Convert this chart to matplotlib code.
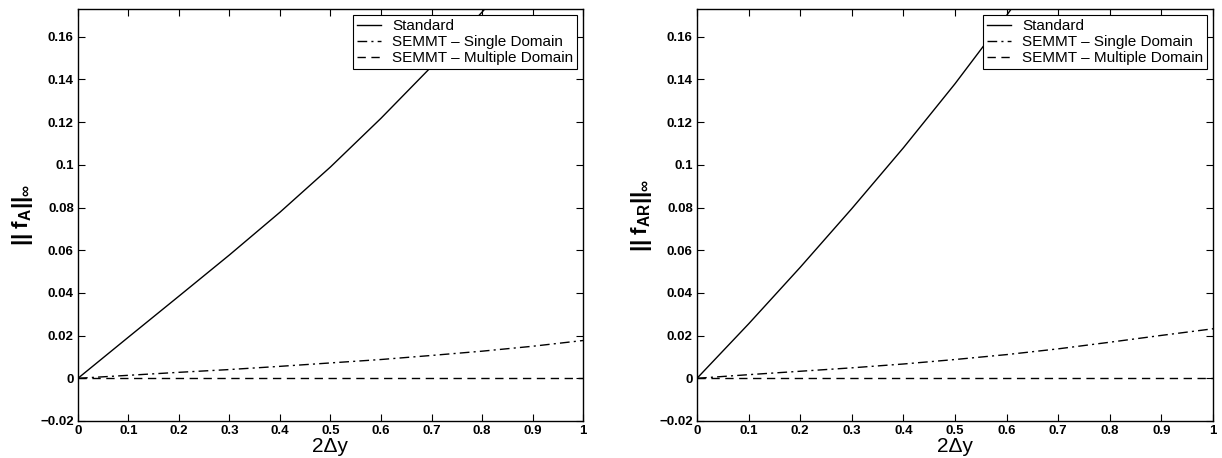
import matplotlib
matplotlib.use("Agg")
import matplotlib.pyplot as plt
import numpy as np

plt.rcParams["font.family"] = ["Liberation Sans", "DejaVu Sans"]
plt.rcParams["mathtext.fontset"] = "custom"
plt.rcParams["mathtext.rm"] = "Liberation Sans"
plt.rcParams["mathtext.it"] = "Liberation Sans:italic"
plt.rcParams["mathtext.bf"] = "Liberation Sans:bold"

# values
x = [0.0, 0.1, 0.2, 0.3, 0.4, 0.5, 0.6, 0.7, 0.8, 0.9, 1.0]

standard_a = [0.0, 0.0193, 0.0385, 0.0578, 0.0778, 0.0990, 0.1218, 0.1460, 0.1715, 0.1985, 0.2270]
single_a = [0.0, 0.0014, 0.0028, 0.0041, 0.0056, 0.0072, 0.0088, 0.0107, 0.0127, 0.0150, 0.0177]
multiple_a = [0.0] * 11

standard_ar = [0.0, 0.0255, 0.0520, 0.0795, 0.1080, 0.1380, 0.1700, 0.2040, 0.2400, 0.2780, 0.3180]
single_ar = [0.0, 0.0017, 0.0033, 0.0049, 0.0067, 0.0088, 0.0111, 0.0138, 0.0169, 0.0201, 0.0232]
multiple_ar = [0.0] * 11

labels = ["Standard", "SEMMT \u2013 Single Domain", "SEMMT \u2013 Multiple Domain"]
xticks = np.arange(0, 1.01, 0.1)
yticks = np.arange(-0.02, 0.161, 0.02)
xticklabels = ["0", "0.1", "0.2", "0.3", "0.4", "0.5", "0.6", "0.7", "0.8", "0.9", "1"]
yticklabels = ["\u22120.02", "0", "0.02", "0.04", "0.06", "0.08", "0.1",
               "0.12", "0.14", "0.16"]

fig = plt.figure(figsize=(12.22, 4.58), dpi=100)
ax1 = fig.add_axes([0.0638, 0.0808, 0.4133, 0.8996])
ax2 = fig.add_axes([0.5704, 0.0808, 0.4223, 0.8996])

panels = [
    (ax1, standard_a, single_a, multiple_a, r"$\mathbf{||\;f_{A}||_{\infty}}$"),
    (ax2, standard_ar, single_ar, multiple_ar, r"$\mathbf{||\;f_{AR}||_{\infty}}$"),
]

for ax, std, sgl, mul, ylabel in panels:
    ax.plot(x, std, color="black", lw=1.0, ls="-", label=labels[0])
    ax.plot(x, sgl, color="black", lw=1.0, ls=(0, (7, 3, 1.5, 3)), label=labels[1])
    ax.plot(x, mul, color="black", lw=1.0, ls=(0, (6, 4)), label=labels[2])
    ax.set_xlim(0, 1)
    ax.set_ylim(-0.02, 0.173)
    ax.set_xticks(xticks)
    ax.set_xticklabels(xticklabels)
    ax.set_yticks(yticks)
    ax.set_yticklabels(yticklabels)
    ax.tick_params(direction="in", top=True, right=True, length=5, width=0.8,
                   labelsize=9.5, pad=3)
    for lab in ax.get_xticklabels() + ax.get_yticklabels():
        lab.set_fontweight("bold")
    for sp in ax.spines.values():
        sp.set_linewidth(1.0)
    ax.set_xlabel("2\u0394y", fontsize=15, labelpad=0)
    ax.set_ylabel(ylabel, fontsize=16, labelpad=4)
    leg = ax.legend(loc="upper right", fontsize=11, frameon=True, fancybox=False,
                    edgecolor="black", framealpha=1.0, borderpad=0.25,
                    labelspacing=0.15, handlelength=1.6, handletextpad=0.7,
                    borderaxespad=0.4)
    leg.get_frame().set_linewidth(0.8)

fig.savefig("out.png", dpi=100)
